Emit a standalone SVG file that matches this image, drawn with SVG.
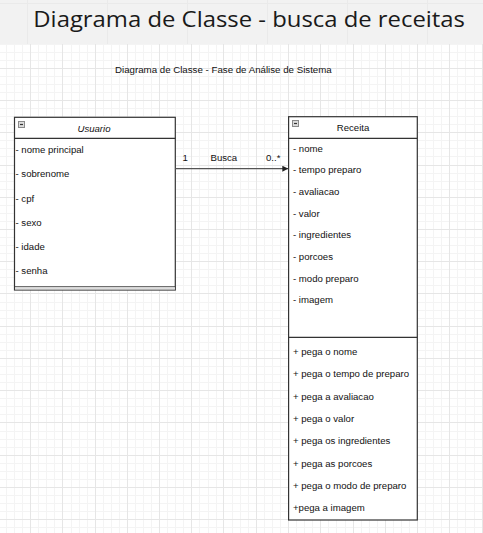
<svg xmlns="http://www.w3.org/2000/svg" width="483" height="533" viewBox="0 0 483 533">
  <defs>
    <marker id="block" viewBox="0 0 6 6" refX="6" refY="3" markerWidth="6" markerHeight="6" markerUnits="userSpaceOnUse" orient="auto">
      <path d="M0,0 L6,3 L0,6 Z" fill="#222"/>
    </marker>
    <g id="collapse">
      <rect x="0" y="0" width="6" height="6" fill="#dcdcdc" stroke="#8a8a8a" stroke-width="1"/>
      <path d="M1.5,3 H4.5" stroke="#333" stroke-width="1.2"/>
    </g>
  </defs>
  <style>
    .t { font-family: "Liberation Sans", Arial, sans-serif; font-size: 9.6px; fill: #111111; }
    .box { fill: #ffffff; stroke: #333333; stroke-width: 1.2; }
    .sep { stroke: #333333; stroke-width: 1.2; fill: none; }
    .gmin { fill: none; stroke: #f4f4f4; stroke-width: 1; }
    .gmaj { fill: none; stroke: #e6e6e6; stroke-width: 1; }
  </style>

  <rect x="0" y="0" width="483" height="533" fill="#ffffff"/>
  <g id="grid">
    <path class="gmin" d="M6.5,44V533M14.5,44V533M22.5,44V533M38.5,44V533M46.5,44V533M54.5,44V533M71.5,44V533M79.5,44V533M87.5,44V533M103.5,44V533M111.5,44V533M119.5,44V533M135.5,44V533M143.5,44V533M151.5,44V533M167.5,44V533M175.5,44V533M183.5,44V533M199.5,44V533M208.5,44V533M216.5,44V533M232.5,44V533M240.5,44V533M248.5,44V533M264.5,44V533M272.5,44V533M280.5,44V533M296.5,44V533M304.5,44V533M312.5,44V533M328.5,44V533M336.5,44V533M345.5,44V533M361.5,44V533M369.5,44V533M377.5,44V533M393.5,44V533M401.5,44V533M409.5,44V533M425.5,44V533M433.5,44V533M441.5,44V533M457.5,44V533M465.5,44V533M474.5,44V533"/>
    <path class="gmin" d="M0,44.5H483M0,52.5H483M0,60.5H483M0,76.5H483M0,84.5H483M0,92.5H483M0,108.5H483M0,116.5H483M0,124.5H483M0,140.5H483M0,148.5H483M0,156.5H483M0,173.5H483M0,181.5H483M0,189.5H483M0,205.5H483M0,213.5H483M0,221.5H483M0,237.5H483M0,245.5H483M0,253.5H483M0,269.5H483M0,277.5H483M0,285.5H483M0,302.5H483M0,310.5H483M0,318.5H483M0,334.5H483M0,342.5H483M0,350.5H483M0,366.5H483M0,374.5H483M0,382.5H483M0,398.5H483M0,406.5H483M0,414.5H483M0,431.5H483M0,439.5H483M0,447.5H483M0,463.5H483M0,471.5H483M0,479.5H483M0,495.5H483M0,503.5H483M0,511.5H483M0,527.5H483"/>
    <path class="gmaj" d="M30.5,44V533M62.5,44V533M95.5,44V533M127.5,44V533M159.5,44V533M191.5,44V533M223.5,44V533M256.5,44V533M288.5,44V533M320.5,44V533M353.5,44V533M385.5,44V533M417.5,44V533M449.5,44V533M482.5,44V533"/>
    <path class="gmaj" d="M0,68.5H483M0,100.5H483M0,132.5H483M0,165.5H483M0,197.5H483M0,229.5H483M0,261.5H483M0,293.5H483M0,326.5H483M0,358.5H483M0,390.5H483M0,422.5H483M0,455.5H483M0,487.5H483M0,519.5H483"/>
  </g>

  <g id="header">
    <rect x="0" y="0" width="483" height="44" fill="#f2f2f2"/>
    <path d="M27.5,0 V44 M107.5,0 V44 M187.5,0 V44 M267.5,0 V44 M347.5,0 V44 M427.5,0 V44 M0,3.5 H483" stroke="#eaeaea" stroke-width="1" fill="none"/>
    <text x="33.3" y="26.6" font-family="'Open Sans', 'Noto Sans', sans-serif" font-size="22" fill="#1a1a1a" textLength="431.7" lengthAdjust="spacingAndGlyphs">Diagrama de Classe - busca de receitas</text>
  </g>

  <g id="subtitle">
    <text class="t" x="115" y="72.5" textLength="216.7" lengthAdjust="spacingAndGlyphs">Diagrama de Classe - Fase de Análise de Sistema</text>
  </g>

  <g id="usuario">
    <rect class="box" x="14.5" y="117.3" width="160.8" height="172.7"/>
    <path class="sep" d="M14.5,138.3 H175.3"/>
    <path d="M14.5,286.8 H175.3" stroke="#333" stroke-width="1" fill="none"/>
    <rect x="15" y="287.3" width="160" height="2.2" fill="#dddddd"/>
    <use href="#collapse" x="18.5" y="121.5"/>
    <text class="t" x="94" y="131.5" text-anchor="middle" font-style="italic">Usuario</text>
    <text class="t" x="15.5" y="153.3">- nome principal</text>
    <text class="t" x="15.5" y="177.4">- sobrenome</text>
    <text class="t" x="15.5" y="201.5">- cpf</text>
    <text class="t" x="15.5" y="225.6">- sexo</text>
    <text class="t" x="15.5" y="249.7">- idade</text>
    <text class="t" x="15.5" y="273.8">- senha</text>
  </g>

  <g id="receita">
    <rect class="box" x="288.6" y="116.7" width="128.7" height="403.3"/>
    <path class="sep" d="M288.6,138.3 H417.3 M288.6,337.3 H417.3"/>
    <use href="#collapse" x="292.5" y="120.5"/>
    <text class="t" x="353" y="130.5" text-anchor="middle">Receita</text>
    <text class="t" x="293" y="151.7">- nome</text>
    <text class="t" x="293" y="173.3">- tempo preparo</text>
    <text class="t" x="293" y="195">- avaliacao</text>
    <text class="t" x="293" y="216.7">- valor</text>
    <text class="t" x="293" y="238.3">- ingredientes</text>
    <text class="t" x="293" y="260">- porcoes</text>
    <text class="t" x="293" y="281.7">- modo preparo</text>
    <text class="t" x="293" y="303.3">- imagem</text>
    <text class="t" x="293" y="355">+ pega o nome</text>
    <text class="t" x="293" y="377.3">+ pega o tempo de preparo</text>
    <text class="t" x="293" y="399.6">+ pega a avaliacao</text>
    <text class="t" x="293" y="421.9">+ pega o valor</text>
    <text class="t" x="293" y="444.2">+ pega os ingredientes</text>
    <text class="t" x="293" y="466.5">+ pega as porcoes</text>
    <text class="t" x="293" y="488.8">+ pega o modo de preparo</text>
    <text class="t" x="293" y="511.1">+pega a imagem</text>
  </g>

  <g id="connectors">
    <path d="M175.3,168.7 H288.3" fill="none" stroke="#555" stroke-width="1.2" marker-end="url(#block)"/>
    <text class="t" x="182.5" y="160.7">1</text>
    <text class="t" x="210.5" y="160.7">Busca</text>
    <text class="t" x="266" y="160.7">0..*</text>
  </g>
</svg>
